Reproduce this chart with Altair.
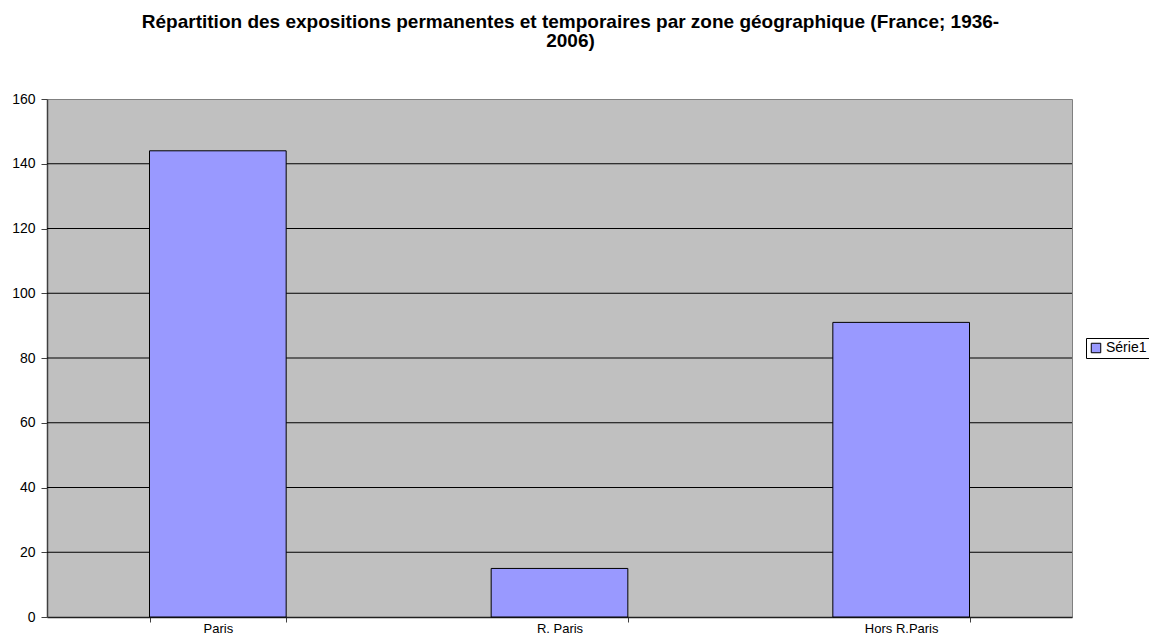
import altair as alt
import pandas as pd

categories = ["Paris", "R. Paris", "Hors R.Paris"]
values = [144, 15, 91]
series = ["Série1", "Série1", "Série1"]
grid_values = [20, 40, 60, 80, 100, 120, 140]
y_ticks = [0, 20, 40, 60, 80, 100, 120, 140, 160]

df = pd.DataFrame({"zone": categories, "value": values, "serie": series})
grid_df = pd.DataFrame({"g": grid_values})

FONT = "Liberation Sans"

x_enc = alt.X("zone:N", sort=categories, title=None,
              scale=alt.Scale(paddingInner=0.6, paddingOuter=0.3),
              axis=alt.Axis(labelAngle=0, labelFont=FONT, labelFontSize=13,
                            labelColor="black", labelPadding=0,
                            tickBand="extent", tickSize=5, tickColor="#404040",
                            domainColor="#202020", domainWidth=1.5, grid=False))

y_scale = alt.Scale(domain=[0, 160], nice=False)

bars = alt.Chart(df).mark_bar(stroke="black", strokeWidth=1).encode(
    x=x_enc,
    y=alt.Y("value:Q", scale=y_scale, title=None,
            axis=alt.Axis(values=y_ticks, labelFont=FONT, labelFontSize=14,
                          labelColor="black", tickSize=6, tickColor="#404040",
                          domainColor="#404040", domainWidth=1.5,
                          labelPadding=6, grid=False)),
    fill=alt.Fill("serie:N", scale=alt.Scale(range=["#9999FF"]),
                  legend=alt.Legend(title=None, orient="none", legendX=1039,
                                    legendY=239, symbolType="square",
                                    symbolStrokeColor="black", symbolStrokeWidth=1,
                                    symbolSize=90, labelFont=FONT, labelFontSize=14,
                                    labelColor="black", strokeColor="black",
                                    padding=3, fillColor="white",
                                    labelOffset=3)),
)

grid = alt.Chart(grid_df).mark_rule(color="black", strokeWidth=1).encode(
    y=alt.Y("g:Q", scale=y_scale)
)

chart = alt.layer(grid, bars).properties(
    width=1025, height=518,
    autosize=alt.AutoSizeParams(type="none"),
    padding={"left": 39, "top": 91, "right": 77, "bottom": 19},
    title=alt.TitleParams(
        ["Répartition des expositions permanentes et temporaires par zone géographique (France; 1936-", "2006)"],
        font=FONT, fontSize=19, fontWeight="bold", color="black",
        anchor="middle", offset=41, lineHeight=19, dx=11),
).configure_view(fill="#C0C0C0", stroke="#808080")

chart.save("out.html", embed_options={"renderer": "svg", "actions": False})
